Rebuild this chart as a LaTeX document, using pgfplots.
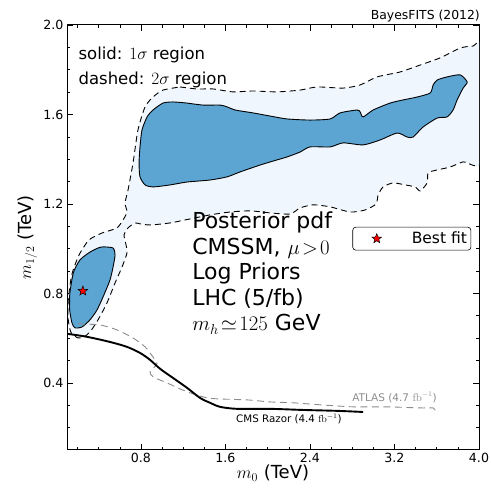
\documentclass[border=0pt]{standalone}
\usepackage[no-math]{fontspec}
\setmainfont{DejaVu Sans}
\usepackage{pgfplots}
\pgfplotsset{compat=1.18}
\usetikzlibrary{calc}
\definecolor{inblue}{RGB}{92,164,210}
\definecolor{outblue}{RGB}{239,246,253}
\definecolor{atlasgray}{RGB}{140,140,140}
\pgfdeclareplotmark{fstar}{%
 \pgfpathmoveto{\pgfpointpolar{90}{\pgfplotmarksize}}%
 \pgfpathlineto{\pgfpointpolar{126}{0.42\pgfplotmarksize}}%
 \pgfpathlineto{\pgfpointpolar{162}{\pgfplotmarksize}}%
 \pgfpathlineto{\pgfpointpolar{198}{0.42\pgfplotmarksize}}%
 \pgfpathlineto{\pgfpointpolar{234}{\pgfplotmarksize}}%
 \pgfpathlineto{\pgfpointpolar{270}{0.42\pgfplotmarksize}}%
 \pgfpathlineto{\pgfpointpolar{306}{\pgfplotmarksize}}%
 \pgfpathlineto{\pgfpointpolar{342}{0.42\pgfplotmarksize}}%
 \pgfpathlineto{\pgfpointpolar{18}{\pgfplotmarksize}}%
 \pgfpathlineto{\pgfpointpolar{54}{0.42\pgfplotmarksize}}%
 \pgfpathclose\pgfusepathqfillstroke}
\begin{document}
\begin{tikzpicture}
\begin{axis}[name=ax, scale only axis, width=412pt, height=425pt,
 xmin=0.1, xmax=4.0, ymin=0.1, ymax=2.0,
 xtick={0.8,1.6,2.4,3.2,4.0}, ytick={0.4,0.8,1.2,1.6,2.0},
 minor xtick={0.2,0.4,0.6,1.0,1.2,1.4,1.8,2.0,2.2,2.6,2.8,3.0,3.4,3.6,3.8},
 minor ytick={0.2,0.3,0.5,0.6,0.7,0.9,1.0,1.1,1.3,1.4,1.5,1.7,1.8,1.9},
 tick align=inside, major tick length=6pt, minor tick length=3pt,
 every tick/.style={black, line width=0.6pt},
 axis line style={line width=1pt},
 /pgf/number format/fixed, /pgf/number format/fixed zerofill,
 /pgf/number format/precision=1, /pgf/number format/assume math mode=true,
 tick label style={font=\fontsize{12.6}{15}\selectfont},
 xlabel={$m_0$ (TeV)}, ylabel={$m_{1/2}$ (TeV)},
 label style={font=\fontsize{18}{20}\selectfont},
 xlabel style={at={(axis description cs:0.5,-0.068)}, anchor=base},
 ylabel style={at={(axis description cs:-0.087,0.5)}, anchor=base},
 clip mode=individual,
 legend cell align=left,
 legend style={at={(0.981,0.525)}, anchor=north east, draw=black, line width=0.6pt,
   rounded corners=3pt, inner xsep=2pt, inner ysep=1pt, nodes={inner sep=2pt},
   font=\fontsize{15.5}{17}\selectfont},
 legend image code/.code={\path[draw=none,fill=none] (0pt,-10.5pt) rectangle (46pt,10.5pt); \draw[#1] plot coordinates {(22pt,0pt)};},
]
% 2 sigma region
\addplot[forget plot, fill=outblue, draw=black, line width=0.9pt, dash pattern=on 6pt off 4pt, smooth, tension=0.4] coordinates {
(1.170,1.723) (1.331,1.714) (1.483,1.714) (1.672,1.701) (1.861,1.705) (2.089,1.701) (2.306,1.709) (2.467,1.723) (2.714,1.718) (2.875,1.732) (3.036,1.768) (3.253,1.790) (3.443,1.821) (3.632,1.853) (3.822,1.897) (3.945,1.906) (4.03,1.902) (4.03,1.397) (3.850,1.388) (3.727,1.365) (3.604,1.352) (3.519,1.339) (3.509,1.294) (3.443,1.258) (3.395,1.276) (3.301,1.285) (3.187,1.294) (3.092,1.276) (3.045,1.240) (3.026,1.200) (2.922,1.173) (2.780,1.164) (2.591,1.187) (2.430,1.196) (2.306,1.182) (2.212,1.155) (2.022,1.160) (1.833,1.169) (1.644,1.164) (1.454,1.151) (1.265,1.133) (1.075,1.115) (0.886,1.106) (0.791,1.111) (0.744,1.115) (0.678,1.093) (0.640,1.061) (0.659,1.017) (0.668,0.981) (0.621,0.918) (0.555,0.847) (0.479,0.758) (0.394,0.682) (0.318,0.628) (0.261,0.606) (0.204,0.601) (0.138,0.625) (0.112,0.682) (0.112,0.771) (0.145,0.883) (0.214,0.972) (0.308,1.039) (0.431,1.070) (0.526,1.084) (0.583,1.097) (0.630,1.128) (0.668,1.164) (0.649,1.204) (0.678,1.263) (0.725,1.383) (0.772,1.531) (0.839,1.634) (0.914,1.678) (1.009,1.709) (1.170,1.723)
} -- cycle;
% 1 sigma regions
\addplot[forget plot, fill=inblue, draw=black, line width=0.9pt, smooth, tension=0.4] coordinates {
(1.236,1.651) (1.388,1.642) (1.549,1.642) (1.615,1.634) (1.691,1.620) (1.861,1.607) (2.022,1.593) (2.183,1.580) (2.401,1.575) (2.591,1.580) (2.685,1.607) (2.846,1.620) (2.875,1.611) (2.903,1.589) (2.998,1.620) (3.159,1.651) (3.282,1.665) (3.414,1.678) (3.538,1.696) (3.566,1.732) (3.604,1.754) (3.698,1.768) (3.822,1.777) (3.888,1.745) (3.850,1.718) (3.793,1.665) (3.755,1.620) (3.698,1.589) (3.604,1.584) (3.471,1.544) (3.376,1.499) (3.320,1.499) (3.225,1.517) (3.064,1.486) (2.903,1.464) (2.714,1.473) (2.591,1.455) (2.401,1.455) (2.306,1.432) (2.183,1.410) (2.089,1.397) (1.928,1.374) (1.738,1.343) (1.615,1.321) (1.454,1.307) (1.236,1.298) (1.075,1.285) (0.914,1.276) (0.839,1.285) (0.791,1.321) (0.782,1.383) (0.791,1.455) (0.810,1.531) (0.858,1.589) (0.914,1.620) (1.009,1.651) (1.104,1.656) (1.236,1.651)
} -- cycle;
\addplot[forget plot, fill=inblue, draw=black, line width=0.9pt, smooth, tension=0.4] coordinates {
(0.125,0.760) (0.127,0.802) (0.160,0.892) (0.223,0.950) (0.318,0.985) (0.394,1.003) (0.441,1.008) (0.536,1.003) (0.555,0.972) (0.536,0.918) (0.507,0.860) (0.441,0.784) (0.384,0.726) (0.318,0.682) (0.242,0.650) (0.176,0.646) (0.147,0.668) (0.125,0.726) (0.125,0.760)
} -- cycle;
% ATLAS
\addplot[forget plot, atlasgray, line width=0.9pt, dash pattern=on 7pt off 4.5pt, smooth, tension=0.4] coordinates {
(0.204,0.664) (0.413,0.659) (0.573,0.637) (0.725,0.601) (0.839,0.561) (0.914,0.516) (0.952,0.485) (0.886,0.449) (0.914,0.427) (1.047,0.400) (1.170,0.373) (1.293,0.351) (1.426,0.333) (1.549,0.328) (1.805,0.324) (2.022,0.315) (2.240,0.311) (2.496,0.302) (2.808,0.293) (3.130,0.293) (3.443,0.288) (3.566,0.288) (3.585,0.275)
};
% CMS Razor
\addplot[forget plot, black, line width=1.9pt, smooth, tension=0.5] coordinates {
(0.109,0.619) (0.289,0.606) (0.507,0.583) (0.668,0.561) (0.791,0.534) (0.886,0.503) (0.981,0.463) (1.104,0.422) (1.236,0.378) (1.359,0.333) (1.454,0.311) (1.549,0.293) (1.710,0.284) (2.022,0.284) (2.335,0.279) (2.657,0.275) (2.903,0.270)
};
% best fit
\addplot[only marks, mark=fstar, mark size=5pt, mark options={fill=red, draw=black, line width=0.5pt}] coordinates {(0.25,0.811)};
\addlegendentry{\hspace{9pt}Best fit}
\node[anchor=base west, font=\fontsize{16.5}{18}\selectfont] at (axis cs:0.176,1.844) {solid: $1\sigma$ region};
\node[anchor=base west, font=\fontsize{16.5}{18}\selectfont] at (axis cs:0.176,1.732) {dashed: $2\sigma$ region};
\node[anchor=base west, inner sep=0pt, font=\fontsize{22}{24}\selectfont] at (axis cs:1.284,1.088) {Posterior pdf};
\node[anchor=base west, inner sep=0pt, font=\fontsize{22}{24}\selectfont] at (axis cs:1.284,0.972) {CMSSM, $\mu\!>\!0$};
\node[anchor=base west, inner sep=0pt, font=\fontsize{22}{24}\selectfont] at (axis cs:1.284,0.860) {Log Priors};
\node[anchor=base west, inner sep=0pt, font=\fontsize{22}{24}\selectfont] at (axis cs:1.284,0.744) {LHC (5/fb)};
\node[anchor=base west, inner sep=0pt, font=\fontsize{22}{24}\selectfont] at (axis cs:1.284,0.632) {$m_h\!\simeq\!125$ GeV};
\node[anchor=base west, inner sep=0pt, text=atlasgray, font=\fontsize{10.5}{12}\selectfont] at (axis cs:2.799,0.315) {ATLAS (4.7 $\mathrm{fb}^{-1}$)};
\node[anchor=base west, inner sep=0pt, font=\fontsize{10.3}{12}\selectfont] at (axis cs:1.700,0.221) {CMS Razor (4.4 $\mathrm{fb}^{-1}$)};
\end{axis}
\node[anchor=base east, inner sep=0pt, font=\fontsize{12.4}{14}\selectfont] at ($(ax.north east)+(1pt,5pt)$) {BayesFITS (2012)};
\pgfresetboundingbox
\path[use as bounding box] ($(ax.south west)+(-67pt,-41pt)$) rectangle ($(ax.north east)+(12pt,25pt)$);
\end{tikzpicture}
\end{document}
